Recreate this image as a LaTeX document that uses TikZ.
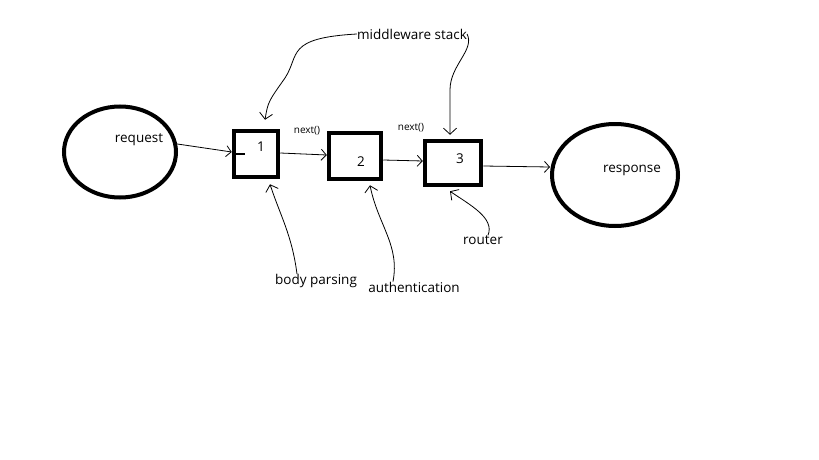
\documentclass[tikz,border=0pt]{standalone}
\usepackage{fontspec}
\setmainfont{Open Sans}
\usepackage{tikz}
\usetikzlibrary{shapes.geometric}
\usetikzlibrary{arrows.meta}

\begin{document}
\begin{tikzpicture}[x=1pt,y=-1pt,
    endpoint/.style={draw,ellipse,line width=4pt,inner sep=0pt},
    stackbox/.style={draw,rectangle,line width=4.5pt,inner sep=0pt},
    flow/.style={line width=0.8pt,-{Straight Barb[length=5pt,width=11pt]}},
    callout/.style={line width=0.8pt,-{Straight Barb[length=6pt,width=13pt]}},
    word/.style={font=\fontsize{13.5}{15}\selectfont,inner sep=0pt},
    small/.style={font=\fontsize{10}{12}\selectfont,inner sep=0pt}]
            \useasboundingbox [fill=white] (0,0) rectangle (819,460);
            
            % Marking request and response by ellipses
            \node (request) [endpoint, minimum width=112, minimum height=91] at (120,152) {};%
            \node (response) [endpoint, minimum width=126, minimum height=102] at (615,175) {};%
            \node (reqtext) [word] at (139,140) {request};%
            \node (restext) [word] at (632,170) {response};%
            
            % Marking the middleware boxes
            \node (b1) [stackbox, minimum width=44, minimum height=46] at (256,154) {};%
            \node (b2) [stackbox, minimum width=52, minimum height=46] at (355,156) {};%
            \node (b3) [stackbox, minimum width=56, minimum height=44] at (453,163) {};%
            \node (n1) [word] at (261,147) {1};%
            \node (n2) [word] at (361,162) {2};%
            \node (n3) [word] at (460,159) {3};%
            
            % Drawing the flow from request to response
            \draw [flow] (request.8) -- ([yshift=2]b1.west);%
            \draw [line width=2pt] (b1.west) -- ([xshift=13]b1.west);%
            \draw [flow] ([yshift=1]b1.east) -- ([yshift=1]b2.west);%
            \draw [flow] ([yshift=-4]b2.east) -- ([yshift=2]b3.west);%
            \draw [flow] ([yshift=-3]b3.east) -- ([yshift=8]response.west);%
            \node (next1) [small] at (307,131) {next()};%
            \node (next2) [small] at (411,128) {next()};%
            
            % Marking the labels under and over the stack
            \node (stack) [word] at (412,34) {middleware stack};%
            \node (body) [word] at (316,281) {body parsing};%
            \node (auth) [word] at (414,287) {authentication};%
            \node (router) [word] at (483,240) {router};%
            
            % Drawing the callouts
            \draw [callout] (stack.west) .. controls (285,38) and (300,55) .. (285,78) .. controls (268,102) .. ([xshift=9,yshift=9]b1.north);%
            \draw [callout] (stack.east) .. controls (475,50) and (450,65) .. (450,90) -- ([xshift=-3,yshift=4]b3.north);%
            \draw [callout] ([xshift=-19]body.north) .. controls (292,235) and (280,215) .. ([xshift=14,yshift=-5]b1.south);%
            \draw [callout] ([xshift=-21]auth.north) .. controls (400,245) and (378,225) .. ([xshift=15,yshift=-4]b2.south);%
            \draw [callout] ([xshift=5]router.north) .. controls (495,218) and (470,205) .. ([xshift=-3,yshift=-4]b3.south);%
\end{tikzpicture}
\end{document}
